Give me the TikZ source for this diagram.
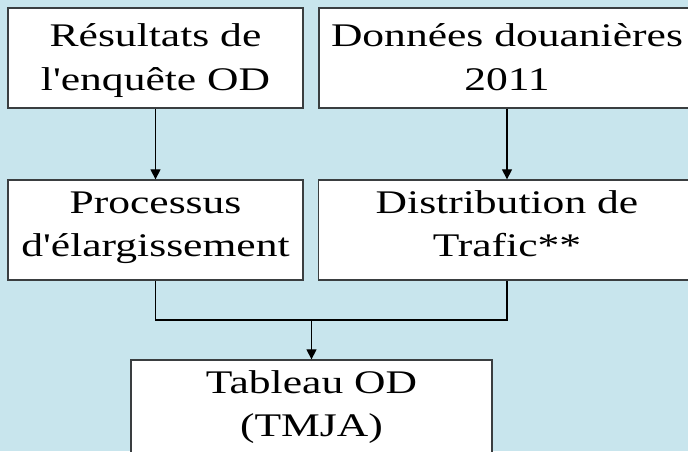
\documentclass[tikz,border=0pt]{standalone}
\usepackage{fontspec}
\setmainfont{Liberation Serif}[FakeStretch=1.32,Ligatures=TeXOff]
\usetikzlibrary{arrows.meta}
\definecolor{bgblue}{RGB}{200,229,237}
\definecolor{edgegray}{RGB}{58,62,64}
\begin{document}
\begin{tikzpicture}[x=1pt,y=-1pt,
  box/.style={draw=edgegray, fill=white, line width=1.3pt, inner sep=0pt,
    minimum height=100pt, align=center, text height=73.5pt,
    font=\fontsize{33}{43.5}\selectfont},
  toprow/.style={box, text depth=9.5pt},
  lowrow/.style={box, text depth=20.5pt},
  link/.style={draw=black, line width=1.2pt},
  arr/.style={link, -{Triangle[length=10pt,width=10pt]}}]
\useasboundingbox (0,0) rectangle (688,451);
\clip (0,0) rectangle (688,451);
\fill[bgblue] (0,0) rectangle (688,451);
\node[toprow, minimum width=295pt] (b1) at (155.5,58) {Résultats de\\l'enquête OD};
\node[toprow, minimum width=376pt] (b2) at (507,58) {Données douanières\\2011};
\node[lowrow, minimum width=295pt] (b3) at (155.5,230) {Processus\\d'élargissement};
\node[lowrow, minimum width=377pt] (b4) at (507,230) {Distribution de\\Trafic**};
\node[lowrow, minimum width=361pt] (b5) at (311.5,410) {Tableau OD\\(TMJA)};
\coordinate (m) at (311.5,320);
\draw[arr] (b1) -- (b3);
\draw[arr] (b2) -- (b4);
\draw[link] (b3.south) |- (m) -| (b4.south);
\draw[arr] (m) -- (b5.north);
\end{tikzpicture}
\end{document}
